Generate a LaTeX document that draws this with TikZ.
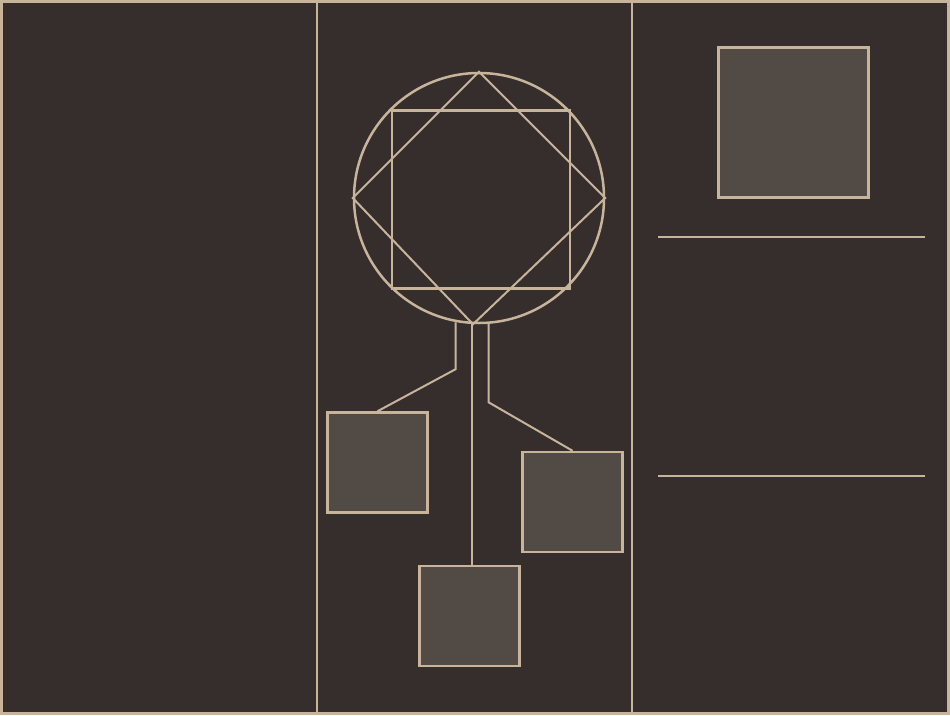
\documentclass[tikz,border=0pt]{standalone}
\usepackage{tikz}
\usetikzlibrary{positioning, calc}
\usepackage{xcolor}
\definecolor{slate}{RGB}{53,46,45}
\definecolor{sand}{RGB}{200,180,155}
\definecolor{tilefill}{RGB}{81,74,69}
\tikzstyle{link} = [line width=2pt, color=sand]

\begin{document}
\begin{tikzpicture}[
    x=1pt, y=-1pt,
    tilebox/.style={rectangle, draw=sand, fill=tilefill, line width=2.5pt,
                    minimum width=100pt, minimum height=100pt, inner sep=0pt},
    rule/.style={line width=2.5pt, color=sand}
]
    \useasboundingbox (0,0) rectangle (950,715);

    % Frame and column dividers
    \draw[rule, line width=3pt, fill=slate] (1.5,1.5) rectangle (948.5,713.5);
    \draw[rule] (317,3) -- (317,712);
    \draw[rule] (632,3) -- (632,712);

    % Middle column: ring with diamond and square
    \node[circle, draw=sand, line width=2.5pt, minimum size=250pt, inner sep=0pt] (ring) at (479,198) {};
    \draw[rule, line width=2pt] (ring.north) -- (ring.east) -- ([xshift=-6pt]ring.south) -- (ring.west) -- cycle;
    \node[rectangle, draw=sand, line width=2.5pt, minimum width=178pt, minimum height=178pt, inner sep=0pt] (core) at (481,199.5) {};

    % Tiles below the ring
    \node[tilebox] (tileA) at (377.5,462.5) {};
    \node[tilebox] (tileB) at (572.5,502) {};
    \node[tilebox] (tileC) at (469.5,616) {};

    % Right column: top tile and rules
    \node[tilebox, minimum width=150pt, minimum height=150pt] (tileD) at (793.5,122.5) {};
    \draw[rule] (658,237) -- (925,237);
    \draw[rule] (658,476) -- (925,476);

    % Connectors
    \draw[link] ([xshift=-23.5pt,yshift=2pt]ring.south) -- ++(0,47) -- (tileA.north);
    \draw[link] ([xshift=-7pt,yshift=1pt]ring.south) coordinate (mid) -- (mid |- tileC.north);
    \draw[link] ([xshift=9.5pt,yshift=2pt]ring.south) -- ++(0,80) -- (tileB.north);

\end{tikzpicture}
\end{document}
